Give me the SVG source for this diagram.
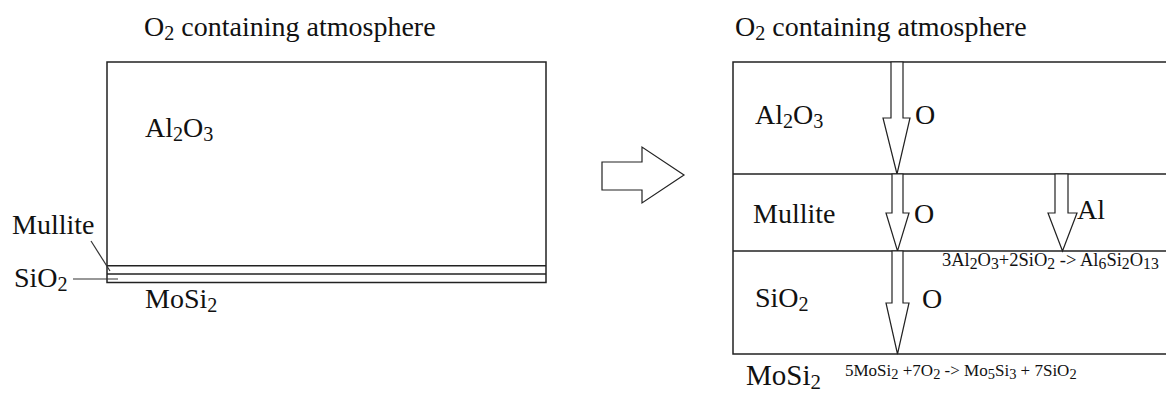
<svg xmlns="http://www.w3.org/2000/svg" width="1166" height="396" viewBox="0 0 1166 396">
  <style>
    .t { font-family: "Liberation Serif", "Times New Roman", serif; fill: #111; }
    .big { font-size: 28px; }
    .small { font-size: 17px; }
    .sub { font-size: 72%; }
    .small .sub { font-size: 85%; }
    .edge { fill: none; stroke: #222; stroke-width: 1.5; }
    .thin { fill: none; stroke: #333; stroke-width: 1.2; }
    .flow { fill: #fff; stroke: #222; stroke-width: 1.2; stroke-linejoin: miter; }
  </style>
  <rect width="1166" height="396" fill="#fff"/>

  <!-- Initial state: thick Al2O3 over thin mullite and silica films on MoSi2 -->
  <g id="before">
    <text class="t big" x="144" y="36">O<tspan class="sub" dy="4">2</tspan><tspan dy="-4"> containing atmosphere</tspan></text>
    <rect class="edge" x="107" y="62" width="439" height="220.5"/>
    <line class="edge" x1="107" y1="265.7" x2="546" y2="265.7"/>
    <line class="edge" x1="107" y1="274" x2="546" y2="274" stroke="#666"/>
    <text class="t big" x="145" y="137">Al<tspan class="sub" dy="4">2</tspan><tspan dy="-4">O</tspan><tspan class="sub" dy="4">3</tspan></text>
    <text class="t big" x="12" y="234">Mullite</text>
    <text class="t big" x="14" y="287">SiO<tspan class="sub" dy="4">2</tspan></text>
    <text class="t big" x="145" y="308">MoSi<tspan class="sub" dy="4">2</tspan></text>
  </g>

  <!-- Transition arrow -->
  <g id="transition">
    <polygon class="flow" points="602,162 642,162 642,147 684,175 642,203 642,190 602,190"/>
  </g>

  <!-- Oxidised state: layered scale with inward diffusion -->
  <g id="after">
    <text class="t big" x="735" y="36">O<tspan class="sub" dy="4">2</tspan><tspan dy="-4"> containing atmosphere</tspan></text>
    <polyline class="edge" points="1166,62 733,62 733,354 1166,354"/>
    <line class="edge" x1="733" y1="174" x2="1166" y2="174"/>
    <line class="edge" x1="733" y1="251" x2="1166" y2="251"/>

    <text class="t big" x="755" y="124">Al<tspan class="sub" dy="4">2</tspan><tspan dy="-4">O</tspan><tspan class="sub" dy="4">3</tspan></text>
    <text class="t big" x="915" y="124">O</text>

    <text class="t big" x="753" y="223">Mullite</text>
    <text class="t big" x="914" y="223">O</text>
    <text class="t big" x="1077" y="219">Al</text>
    <text class="t small" x="942" y="266" style="font-size:18.5px">3Al<tspan class="sub" dy="3">2</tspan><tspan dy="-3">O</tspan><tspan class="sub" dy="3">3</tspan><tspan dy="-3">+2SiO</tspan><tspan class="sub" dy="3">2</tspan><tspan dy="-3"> -&gt; Al</tspan><tspan class="sub" dy="3">6</tspan><tspan dy="-3">Si</tspan><tspan class="sub" dy="3">2</tspan><tspan dy="-3">O</tspan><tspan class="sub" dy="3">13</tspan></text>

    <text class="t big" x="755" y="307">SiO<tspan class="sub" dy="4">2</tspan></text>
    <text class="t big" x="922" y="308">O</text>

    <text class="t big" x="746" y="385" style="font-size:29px">MoSi<tspan class="sub" dy="4">2</tspan></text>
    <text class="t small" x="845" y="376">5MoSi<tspan class="sub" dy="3">2</tspan><tspan dy="-3"> +7O</tspan><tspan class="sub" dy="3">2</tspan><tspan dy="-3"> -&gt; Mo</tspan><tspan class="sub" dy="3">5</tspan><tspan dy="-3">Si</tspan><tspan class="sub" dy="3">3</tspan><tspan dy="-3"> + 7SiO</tspan><tspan class="sub" dy="3">2</tspan></text>
  </g>

  <!-- Diffusion arrows -->
  <g id="connectors">
    <polygon class="flow" points="891,62 903,62 903,118 910,118 897,174 883,118 891,118"/>
    <polygon class="flow" points="892,174 903,174 903,213 909,213 897.5,251 886,213 892,213"/>
    <polygon class="flow" points="1055,174 1068,174 1068,213 1077,213 1062.5,251 1048,213 1055,213"/>
    <polygon class="flow" points="892,251 903,251 903,303 909,303 897.5,354 886,303 892,303"/>
    <line class="thin" x1="91" y1="241" x2="110" y2="271"/>
    <line class="thin" x1="73" y1="279" x2="118" y2="279"/>
  </g>
</svg>
